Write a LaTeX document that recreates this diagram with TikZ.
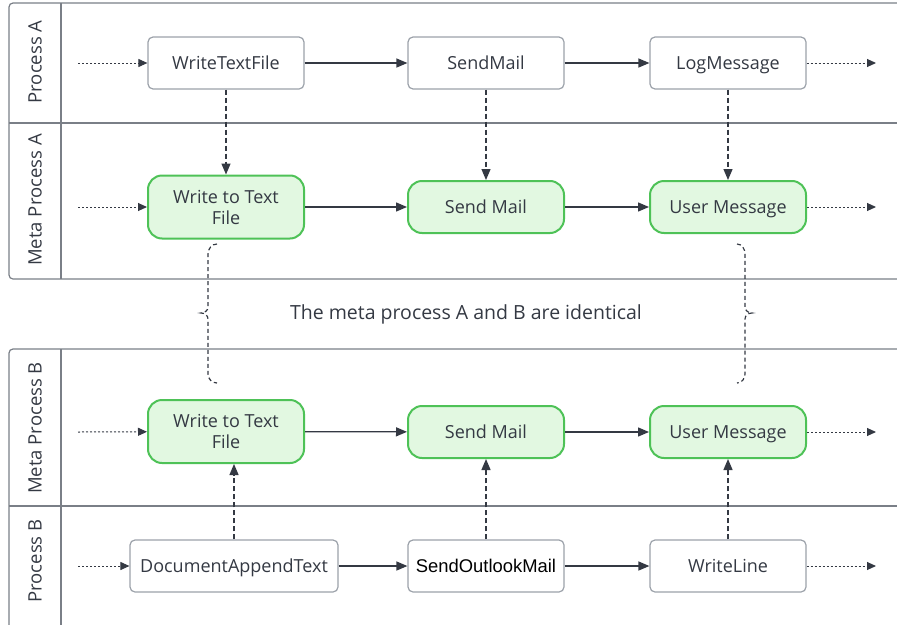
\documentclass[tikz,border=0pt]{standalone}
\usepackage{fontspec}
\setmainfont{Open Sans}
\newfontfamily\arialfont{Liberation Sans}
\usetikzlibrary{arrows.meta}

\definecolor{lanegray}{HTML}{7A7F87}
\definecolor{boxgray}{HTML}{9CA2AA}
\definecolor{inkgray}{HTML}{343943}
\definecolor{metagreen}{HTML}{4EC257}
\definecolor{metafill}{HTML}{E2F8E1}

\begin{document}
\begin{tikzpicture}[x=1pt,y=-1pt]
	\useasboundingbox (0,0) rectangle (897,624);
	\tikzstyle every node=[font=\fontsize{18}{21}\selectfont,text=inkgray]
	\tikzstyle pool=[draw=lanegray,line width=1.2pt]
	\tikzstyle proc=[draw=boxgray,fill=white,line width=1.2pt,rounded corners=5pt,minimum width=156pt,minimum height=52pt,inner sep=2pt,text height=13pt,text depth=0pt]
	\tikzstyle meta=[draw=metagreen,fill=metafill,line width=2pt,rounded corners=14pt,minimum width=156pt,minimum height=52pt,align=center,text height=13pt,text depth=0pt]
	\tikzstyle flow=[draw=inkgray,line width=1.3pt,-{Triangle[length=11pt,width=9pt]}]
	\tikzstyle link=[flow,dash pattern=on 5pt off 3pt]
	\tikzstyle loose=[draw=inkgray,line width=1pt,dash pattern=on 2pt off 2pt,-{Triangle[length=9pt,width=8pt]}]
	\tikzstyle brace=[draw=inkgray,line width=1.2pt,dash pattern=on 4pt off 3pt]

	% pools
	\draw[pool,rounded corners=4pt] (905,3) -- (9,3) -- (9,279) -- (905,279);
	\draw[pool] (9,123) -- (905,123);
	\draw[pool] (61,3) -- (61,279);
	\draw[pool,rounded corners=4pt] (905,349) -- (9,349) -- (9,640);
	\draw[pool] (9,506) -- (905,506);
	\draw[pool] (61,349) -- (61,640);

	\node[rotate=90,font=\fontsize{18.5}{22}\selectfont] (la) at (35,62) {Process A};
	\node[rotate=90,font=\fontsize{18.5}{22}\selectfont] (lma) at (35,200) {Meta Process A};
	\node[rotate=90,font=\fontsize{18.5}{22}\selectfont] (lmb) at (35,428) {Meta Process B};
	\node[rotate=90,font=\fontsize{18.5}{22}\selectfont] (lb) at (35,561) {Process B};

	% process A
	\node[proc] (a1) at (226,63) {WriteTextFile};
	\node[proc] (a2) at (486,63) {SendMail};
	\node[proc] (a3) at (728,63) {LogMessage};

	% meta process A
	\node[meta,minimum height=63pt,text height=,text depth=] (m1) at (226,207) {Write to Text\\File};
	\node[meta] (m2) at (486,207) {Send Mail};
	\node[meta] (m3) at (728,207) {User Message};

	% meta process B
	\node[meta,minimum height=63pt,text height=,text depth=] (n1) at (226,431.5) {Write to Text\\File};
	\node[meta] (n2) at (486,432) {Send Mail};
	\node[meta] (n3) at (728,432) {User Message};

	% process B
	\node[proc,minimum width=208pt] (b1) at (234,566) {DocumentAppendText};
	\node[proc] (b2) at (486,566) {\arialfont\fontsize{18.4}{21}\selectfont\color{black}SendOutlookMail};
	\node[proc] (b3) at (728,566) {WriteLine};

	\node[font=\fontsize{19.5}{23}\selectfont] (note) at (466,314) {The meta process A and B are identical};

	% loose ends
	\coordinate (ia) at (78,63);
	\coordinate (ima) at (78,207);
	\coordinate (imb) at (78,432);
	\coordinate (ib) at (78,566);
	\coordinate (oa) at (876,63);
	\coordinate (oma) at (876,207);
	\coordinate (omb) at (876,432);
	\coordinate (ob) at (876,566);

	\draw[loose] (ia) -- (a1);
	\draw[loose] (ima) -- (m1);
	\draw[loose] (imb) -- (n1);
	\draw[loose] (ib) -- (b1);
	\draw[loose] (a3) -- (oa);
	\draw[loose] (m3) -- (oma);
	\draw[loose] (n3) -- (omb);
	\draw[loose] (b3) -- (ob);

	\draw[flow] (a1)--(a2);
	\draw[flow] (a2)--(a3);
	\draw[flow] (m1)--(m2);
	\draw[flow] (m2)--(m3);
	\draw[flow] (n1)--(n2);
	\draw[flow] (n2)--(n3);
	\draw[flow] (b1)--(b2);
	\draw[flow] (b2)--(b3);

	\draw[link] (a1)--(m1);
	\draw[link] (a2)--(m2);
	\draw[link] (a3)--(m3);
	\draw[link] (b1.north)--(b1.north |- n1.south);
	\draw[link] (b2)--(n2);
	\draw[link] (b3)--(n3);

	% braces
	\draw[brace] (217,244) to[out=180,in=90] (208,254) -- (208,307) to[out=270,in=0] (201,313) to[out=0,in=90] (208,319) -- (208,374) to[out=270,in=180] (217,383);
	\draw[brace] (737,244) to[out=0,in=90] (745,254) -- (745,307) to[out=270,in=180] (752,313) to[out=180,in=90] (745,319) -- (745,374) to[out=270,in=0] (737,383);
\end{tikzpicture}
\end{document}
